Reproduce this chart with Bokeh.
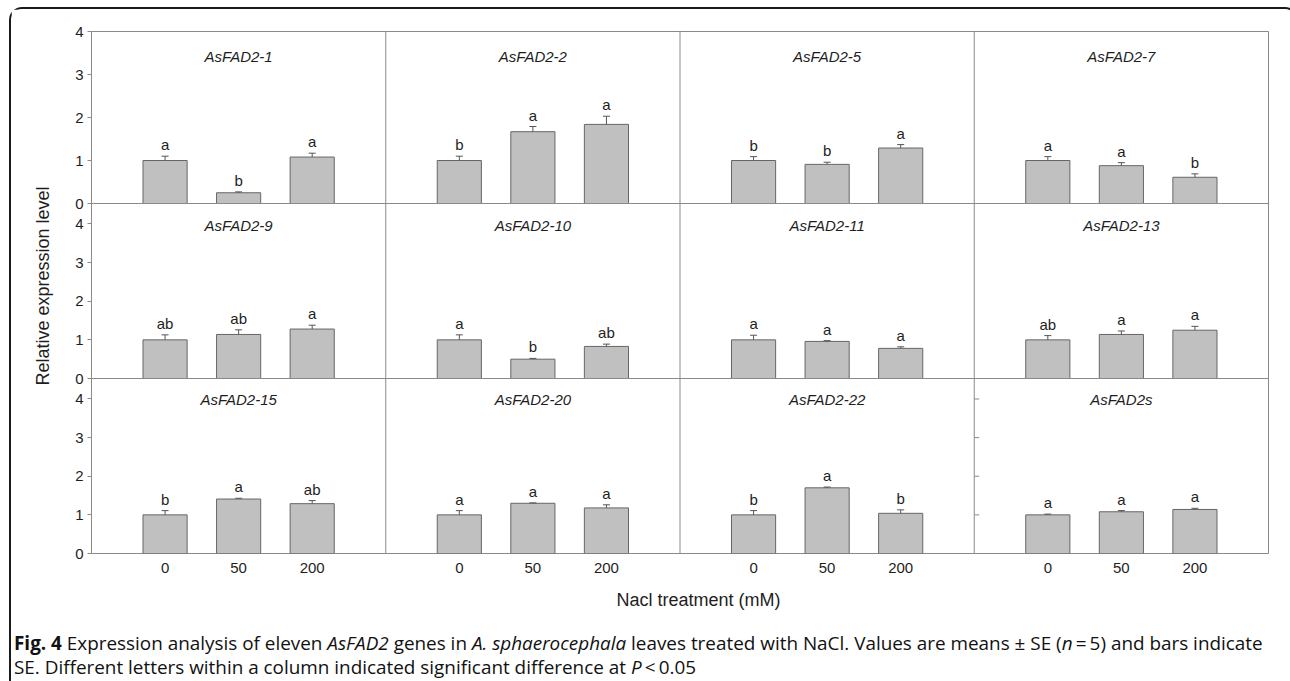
import numpy as np
from bokeh.plotting import figure
from bokeh.models import (Range1d, FixedTicker, ColumnDataSource, Whisker, TeeHead,
                          Span, Div, CustomJSTickFormatter, Title)
from bokeh.layouts import column
from bokeh.core.properties import value
from bokeh.embed import file_html
from bokeh.resources import INLINE

# ---------------- data ----------------
treatments = ["0", "50", "200"]
genes = ["AsFAD2-1", "AsFAD2-2", "AsFAD2-5", "AsFAD2-7",
         "AsFAD2-9", "AsFAD2-10", "AsFAD2-11", "AsFAD2-13",
         "AsFAD2-15", "AsFAD2-20", "AsFAD2-22", "AsFAD2s"]

mean_fad2_1 = [1.00, 0.25, 1.08]
se_fad2_1 = [0.10, 0.02, 0.09]
sig_fad2_1 = ["a", "b", "a"]

mean_fad2_2 = [1.00, 1.67, 1.84]
se_fad2_2 = [0.10, 0.12, 0.19]
sig_fad2_2 = ["b", "a", "a"]

mean_fad2_5 = [1.00, 0.91, 1.29]
se_fad2_5 = [0.09, 0.05, 0.08]
sig_fad2_5 = ["b", "b", "a"]

mean_fad2_7 = [1.00, 0.88, 0.61]
se_fad2_7 = [0.09, 0.07, 0.08]
sig_fad2_7 = ["a", "a", "b"]

mean_fad2_9 = [1.00, 1.14, 1.28]
se_fad2_9 = [0.13, 0.12, 0.10]
sig_fad2_9 = ["ab", "ab", "a"]

mean_fad2_10 = [1.00, 0.50, 0.83]
se_fad2_10 = [0.13, 0.02, 0.06]
sig_fad2_10 = ["a", "b", "ab"]

mean_fad2_11 = [1.00, 0.96, 0.78]
se_fad2_11 = [0.12, 0.02, 0.04]
sig_fad2_11 = ["a", "a", "a"]

mean_fad2_13 = [1.00, 1.14, 1.25]
se_fad2_13 = [0.11, 0.09, 0.10]
sig_fad2_13 = ["ab", "a", "a"]

mean_fad2_15 = [1.00, 1.41, 1.29]
se_fad2_15 = [0.11, 0.02, 0.08]
sig_fad2_15 = ["b", "a", "ab"]

mean_fad2_20 = [1.00, 1.30, 1.18]
se_fad2_20 = [0.11, 0.01, 0.08]
sig_fad2_20 = ["a", "a", "a"]

mean_fad2_22 = [1.00, 1.70, 1.04]
se_fad2_22 = [0.11, 0.02, 0.09]
sig_fad2_22 = ["b", "a", "b"]

mean_fad2s = [1.00, 1.08, 1.14]
se_fad2s = [0.02, 0.03, 0.03]
sig_fad2s = ["a", "a", "a"]

y_ticks = [0, 1, 2, 3, 4]
row_tops = [4.0, 4.53, 4.53]      # upper limit of each row's value axis

means = [mean_fad2_1, mean_fad2_2, mean_fad2_5, mean_fad2_7,
         mean_fad2_9, mean_fad2_10, mean_fad2_11, mean_fad2_13,
         mean_fad2_15, mean_fad2_20, mean_fad2_22, mean_fad2s]
ses = [se_fad2_1, se_fad2_2, se_fad2_5, se_fad2_7,
       se_fad2_9, se_fad2_10, se_fad2_11, se_fad2_13,
       se_fad2_15, se_fad2_20, se_fad2_22, se_fad2s]
sigs = [sig_fad2_1, sig_fad2_2, sig_fad2_5, sig_fad2_7,
        sig_fad2_9, sig_fad2_10, sig_fad2_11, sig_fad2_13,
        sig_fad2_15, sig_fad2_20, sig_fad2_22, sig_fad2s]

# ---------------- layout / style ----------------
FONT = "Liberation Sans"
GRAY = "#8a8a8a"
TXT = "#1e1e1e"
NCOL, NROW = 4, 3
UNITS = 4                       # x units per panel, bars at 1, 2, 3
FRAME_W = 1177
ROW_H = [172, 175, 175]
FRAME_H = sum(ROW_H)
title_drop = [25, 22, 21]
inner_tick_panel = 11           # panel with inward ticks on its left edge

bases = [sum(ROW_H[r + 1:]) for r in range(NROW)]
scales = [ROW_H[r] / row_tops[r] for r in range(NROW)]

p = figure(frame_width=FRAME_W, frame_height=FRAME_H,
           x_range=Range1d(0, NCOL * UNITS), y_range=Range1d(0, FRAME_H),
           output_backend="svg", toolbar_location=None,
           min_border_left=80, min_border_right=18,
           min_border_top=22, min_border_bottom=70)
p.xgrid.visible = False
p.ygrid.visible = False
p.outline_line_color = GRAY
p.outline_line_width = 1
p.background_fill_color = "white"
p.border_fill_color = "white"

for r in range(NROW):
    p.extra_y_ranges[f"r{r}"] = Range1d(-bases[r] / scales[r],
                                        (FRAME_H - bases[r]) / scales[r])

# y axis: 0-4 repeated for each row
tick_pos, tick_lab = [], []
for r in range(NROW):
    for v in y_ticks:
        tick_pos.append(bases[r] + v * scales[r])
        tick_lab.append(str(v))
ya = p.yaxis[0]
ya.ticker = FixedTicker(ticks=tick_pos)
ya.formatter = CustomJSTickFormatter(
    args=dict(pos=tick_pos, lab=tick_lab),
    code="const i = pos.findIndex(q => Math.abs(q - tick) < 1e-6); return i >= 0 ? lab[i] : '';")
ya.axis_line_color = None
ya.major_tick_out = 4
ya.major_tick_in = 0
ya.major_tick_line_color = GRAY
ya.minor_tick_line_color = None
ya.major_label_text_font = FONT
ya.major_label_text_font_size = "15px"
ya.major_label_text_color = TXT
ya.major_label_standoff = 4

# x axis: treatment labels under each column
x_pos = []
x_over = {}
for c in range(NCOL):
    for k, t in enumerate(treatments):
        pos = c * UNITS + k + 1
        x_pos.append(pos)
        x_over[pos] = t
xa = p.xaxis[0]
xa.ticker = FixedTicker(ticks=x_pos)
xa.major_label_overrides = x_over
xa.axis_line_color = None
xa.major_tick_out = 0
xa.major_tick_in = 0
xa.minor_tick_line_color = None
xa.major_label_text_font = FONT
xa.major_label_text_font_size = "15px"
xa.major_label_text_color = TXT
xa.major_label_standoff = 9

# axis titles, placed as in the original figure
p.add_layout(Title(text="Relative expression level", align="left", offset=168,
                   standoff=39, text_font=FONT, text_font_size="18px",
                   text_font_style="normal", text_color=TXT), "left")
p.add_layout(Title(text="Nacl treatment (mM)", align="left", offset=525,
                   standoff=24, text_font=FONT, text_font_size="18px",
                   text_font_style="normal", text_color=TXT), "below")

# panel dividers
for c in range(1, NCOL):
    p.add_layout(Span(location=c * UNITS, dimension="height",
                      line_color=GRAY, line_width=1))
for r in range(NROW - 1):
    p.add_layout(Span(location=bases[r], dimension="width",
                      line_color=GRAY, line_width=1))

# bars, error bars, letters, titles
for r in range(NROW):
    rn = f"r{r}"
    xs, tops, his, labs = [], [], [], []
    tx, ty, tt = [], [], []
    for c in range(NCOL):
        g = r * NCOL + c
        for k in range(len(treatments)):
            xs.append(c * UNITS + k + 1)
            tops.append(means[g][k])
            his.append(means[g][k] + ses[g][k])
            labs.append(sigs[g][k])
        tx.append(c * UNITS + 2)
        ty.append(row_tops[r])
        tt.append(genes[g])
    src = ColumnDataSource(dict(x=xs, top=tops, hi=his, lab=labs))
    p.vbar(x="x", top="top", bottom=0, width=0.6, source=src,
           fill_color="#c0c0c0", line_color="#666666", line_width=1,
           y_range_name=rn)
    p.add_layout(Whisker(source=src, base="x", lower="top", upper="hi",
                         dimension="height", line_color="#555555", line_width=1,
                         upper_head=TeeHead(size=7, line_color="#555555", line_width=1),
                         lower_head=None, y_range_name=rn, level="overlay"))
    p.text(x="x", y="hi", text="lab", source=src, y_range_name=rn,
           text_align="center", text_baseline="bottom", y_offset=-3,
           text_font=value(FONT), text_font_size=value("15px"),
           text_color=TXT)
    tsrc = ColumnDataSource(dict(x=tx, y=ty, t=tt))
    p.text(x="x", y="y", text="t", source=tsrc, y_range_name=rn,
           text_align="center", text_baseline="middle", y_offset=title_drop[r],
           text_font=value(FONT), text_font_size=value("15px"),
           text_font_style="italic", text_color=TXT)

# inward ticks on the left edge of the AsFAD2s panel
ir = inner_tick_panel // NCOL
ic = inner_tick_panel % NCOL
p.ray(x=[ic * UNITS] * (len(y_ticks) - 1), y=y_ticks[1:], length=5,
      length_units="screen", angle=0, line_color=GRAY, line_width=1,
      y_range_name=f"r{ir}")

caption_html = (
    '<div style="font-family:\'Open Sans\',sans-serif;font-size:18.9px;line-height:24px;'
    'color:#111;padding-top:3px;margin-left:-2px;white-space:nowrap;">'
    '<b>Fig. 4</b> Expression analysis of eleven <i>AsFAD2</i> genes in '
    '<i>A. sphaerocephala</i> leaves treated with NaCl. Values are means &plusmn; SE '
    '(<i>n</i>&#8201;=&#8201;5) and bars indicate<br>'
    'SE. Different letters within a column indicated significant difference at '
    '<i>P</i>&#8201;&lt;&#8201;0.05</div>'
)
caption = Div(text=caption_html, width=1275, height=58)

root = column(p, caption, styles={
    "margin-left": "9px",
    "margin-top": "7px",
    "border-top": "2px solid #1a1a1a",
    "border-left": "2px solid #1a1a1a",
    "border-right": "2px solid #1a1a1a",
    "border-top-left-radius": "13px",
    "border-top-right-radius": "13px",
    "background-color": "white",
})

open("out.html", "w").write(file_html(root, INLINE))
